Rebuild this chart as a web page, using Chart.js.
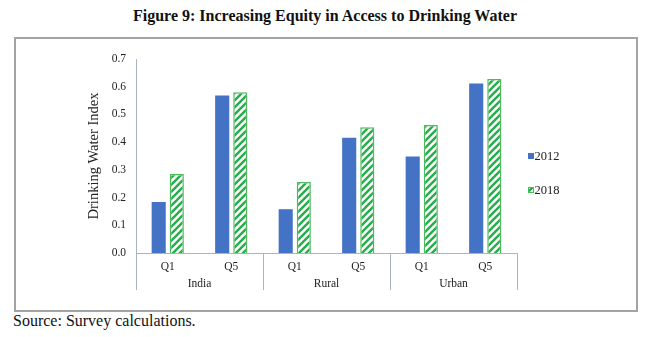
<!DOCTYPE html>
<html>
<head>
<meta charset="utf-8">
<script src="https://cdn.jsdelivr.net/npm/chart.js@4"></script>
<style>
  html, body { margin:0; padding:0; background:#fff; }
  #wrap { position:relative; width:650px; height:337px; font-family:"Liberation Serif","Times New Roman",serif; }
  #title { position:absolute; left:0; top:7px; width:650px; text-align:center; font-weight:bold; font-size:16px; color:#111; }
  #frame { position:absolute; left:14px; top:37px; width:620px; height:271px; border:2px solid #a3a3a3; }
  #frame canvas { position:absolute; left:0; top:0; }
  #source { position:absolute; left:13px; top:312px; font-size:16px; color:#111; }
</style>
</head>
<body>
<div id="wrap">
  <div id="title">Figure 9: Increasing Equity in Access to Drinking Water</div>
  <div id="frame"><canvas id="c" width="620" height="271"></canvas></div>
  <div id="source">Source: Survey calculations.</div>
</div>
<script>
const categories = ["Q1", "Q5", "Q1", "Q5", "Q1", "Q5"];
const groups = ["India", "Rural", "Urban"];
const series2012 = [0.184, 0.568, 0.158, 0.416, 0.348, 0.612];
const series2018 = [0.285, 0.580, 0.256, 0.454, 0.462, 0.628];
const seriesNames = ["2012", "2018"];

function makePattern() {
  const t = document.createElement('canvas');
  t.width = 7; t.height = 7;
  const g = t.getContext('2d');
  g.fillStyle = '#ffffff';
  g.fillRect(0, 0, 7, 7);
  g.strokeStyle = '#25ad4a';
  g.lineWidth = 2.4;
  g.beginPath();
  g.moveTo(-1, 8); g.lineTo(8, -1);
  g.moveTo(-4.5, 4.5); g.lineTo(4.5, -4.5);
  g.moveTo(2.5, 11.5); g.lineTo(11.5, 2.5);
  g.stroke();
  return document.getElementById('c').getContext('2d').createPattern(t, 'repeat');
}
const hatch = makePattern();

const axisColor = '#a9b3c6';
const serif = "'Liberation Serif', 'Times New Roman', serif";

const groupPlugin = {
  id: 'groups',
  afterDraw(chart) {
    const x = chart.scales.x, ctx = chart.ctx, area = chart.chartArea;
    const half = (x.getPixelForValue(1) - x.getPixelForValue(0)) / 2;
    const bottom = area.bottom + 37;
    ctx.save();
    ctx.strokeStyle = axisColor;
    ctx.lineWidth = 1;
    for (let i = 0; i <= categories.length; i += 2) {
      const px = Math.round(x.getPixelForValue(i) - half) + 0.5;
      ctx.beginPath();
      ctx.moveTo(px, area.bottom);
      ctx.lineTo(px, bottom);
      ctx.stroke();
    }
    ctx.fillStyle = '#222';
    ctx.font = '11.5px ' + serif;
    ctx.textAlign = 'center';
    ctx.textBaseline = 'middle';
    groups.forEach((g, k) => {
      const cx = (x.getPixelForValue(2 * k) + x.getPixelForValue(2 * k + 1)) / 2;
      ctx.fillText(g, cx, area.bottom + 31);
    });
    // legend
    const lx = area.right + 11;
    ctx.font = '12.5px ' + serif;
    ctx.textAlign = 'left';
    chart.data.datasets.forEach((ds, k) => {
      const ly = area.top + 97 + k * 34;
      ctx.fillStyle = ds.backgroundColor;
      ctx.fillRect(lx, ly - 3, 6, 6);
      if (ds.borderWidth) {
        ctx.strokeStyle = ds.borderColor;
        ctx.lineWidth = 1;
        ctx.strokeRect(lx + 0.5, ly - 2.5, 5, 5);
      }
      ctx.fillStyle = '#222';
      ctx.fillText(ds.label, lx + 6.5, ly + 0.5);
    });
    ctx.restore();
  }
};

new Chart(document.getElementById('c'), {
  type: 'bar',
  data: {
    labels: categories,
    datasets: [
      { label: seriesNames[0], data: series2012, backgroundColor: '#4472c4', borderWidth: 0,
        categoryPercentage: 0.57, barPercentage: 0.78 },
      { label: seriesNames[1], data: series2018, backgroundColor: hatch, borderColor: '#4cbb5e', borderWidth: 1.5,
        categoryPercentage: 0.57, barPercentage: 0.78 }
    ]
  },
  options: {
    responsive: false,
    animation: false,
    devicePixelRatio: 1,
    layout: { padding: { left: 0, right: 119, top: 20, bottom: 0 } },
    plugins: {
      legend: { display: false },
      tooltip: { enabled: false }
    },
    scales: {
      x: {
        grid: { display: false, drawTicks: false },
        border: { color: axisColor, width: 1 },
        ticks: { color: '#222', padding: 7, font: { family: serif, size: 11.5 } },
        afterFit(s) { s.height = 57; }
      },
      y: {
        min: 0, max: 0.7,
        grid: { display: false, drawTicks: false },
        border: { color: axisColor, width: 1 },
        ticks: { stepSize: 0.1, color: '#222', padding: 10, font: { family: serif, size: 11.5 },
          callback: v => Number(v).toFixed(1) },
        title: { display: true, text: 'Drinking Water Index', color: '#222', padding: { top: 69, bottom: 0 },
          font: { family: serif, size: 14.5 } },
        afterFit(s) { s.width = 120; }
      }
    }
  },
  plugins: [groupPlugin]
});
</script>
</body>
</html>
